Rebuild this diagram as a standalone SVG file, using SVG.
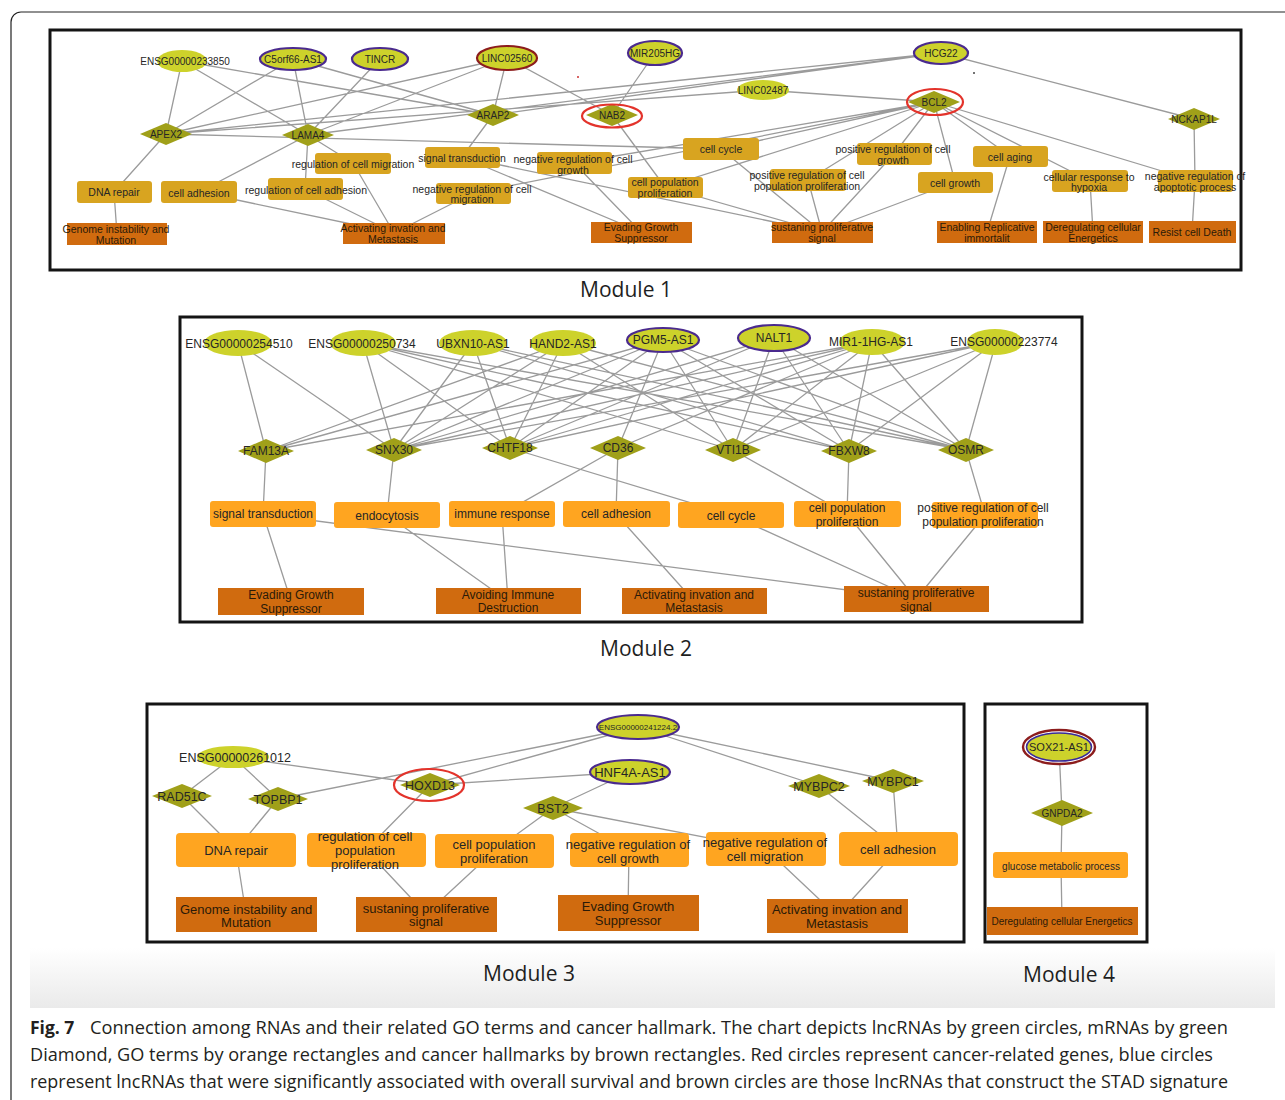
<svg xmlns="http://www.w3.org/2000/svg" width="1285" height="1100" viewBox="0 0 1285 1100">
<defs>
<linearGradient id="band" x1="0" y1="0" x2="0" y2="1"><stop offset="0" stop-color="#ffffff"/><stop offset="1" stop-color="#eaeaea"/></linearGradient>
</defs>
<style>
.e{stroke:#9b9b9b;stroke-width:1.3;fill:none}
.box{fill:none;stroke:#141414;stroke-width:3}
.lnc{fill:#cdd22b}
.pur{stroke:#4a2a8e;stroke-width:2.2}
.drd{stroke:#8c1c1c;stroke-width:2.2}
.ring{fill:none;stroke:#e3332b;stroke-width:2.2}
.mr{fill:#a0a019}
.go1{fill:#d8a420}
.go{fill:#ffa520}
.hm{fill:#d06b0f}
text{font-family:"Liberation Sans",Arial,sans-serif;text-anchor:middle;fill:#262626}
.hmt{fill:#2a1a08}
.n10{font-size:10px}
.g10{font-size:10.5px}
.n12{font-size:12px}
.n125{font-size:12.5px}
.n13{font-size:13px}
.n11{font-size:11px}
.n8{font-size:8px}
.mod{font-family:"Open Sans","Liberation Sans",sans-serif;font-size:21px;fill:#1e1e1e}
.cap{font-family:"Open Sans","Liberation Sans",sans-serif;font-size:17.5px;fill:#231f20;text-anchor:start}
</style>

<rect x="11" y="12" width="1300" height="1120" rx="10" fill="#ffffff" stroke="#222" stroke-width="1.2"/>
<rect x="30" y="948" width="1245" height="60" fill="url(#band)"/>

<!-- ================= MODULE 1 ================= -->
<rect class="box" x="50" y="30" width="1191" height="240" fill="#fff"/>
<g id="m1-edges">
<path class="e" d="M182,61L166,134M182,61L308,135M182,61L493,115M293,59L166,134M293,59L308,135M293,59L493,115M380,59L308,135M507,58L166,134M507,58L308,135M507,58L493,115M507,58L612,115M655,53L612,115M941,53L166,134M941,53L493,115M941,53L308,135M941,53L1194,119M763,90L934,102M763,90L166,134"/>
<path class="e" d="M166,134L114,192M166,134L721,149M308,135L199,192M308,135L305,189M308,135L353,163M493,115L462,157M612,115L665,187M934,102L721,149M934,102L574,163M934,102L473,193M934,102L665,187M934,102L808,180M934,102L894,154M934,102L955,182M934,102L1010,156M934,102L1090,181M934,102L1195,181M1194,119L1195,181"/>
<path class="e" d="M114,192L117,234M199,192L394,233M305,189L394,233M353,163L394,233M473,193L394,233M462,157L641,232M462,157L822,232M574,163L641,232M665,187L822,232M721,149L822,232M808,180L822,232M894,154L822,232M955,182L822,232M1010,156L987,232M1090,181L1093,232M1195,181L1192,232"/>
</g>
<circle cx="578" cy="77" r="1" fill="#c33"/>
<circle cx="974" cy="73" r="1" fill="#444"/>

<g id="m1-ENSG00000233850"><ellipse class="lnc" cx="182" cy="61" rx="25" ry="11"/><text class="n10" x="185" y="65">ENSG00000233850</text></g>
<g id="m1-C5orf66-AS1"><ellipse class="lnc pur" cx="293" cy="59" rx="33" ry="11"/><text class="n10" x="293" y="63">C5orf66-AS1</text></g>
<g id="m1-TINCR"><ellipse class="lnc pur" cx="380" cy="59" rx="28" ry="11"/><text class="n10" x="380" y="63">TINCR</text></g>
<g id="m1-LINC02560"><ellipse class="lnc drd" cx="507" cy="58" rx="30" ry="12"/><text class="n10" x="507" y="62">LINC02560</text></g>
<g id="m1-MIR205HG"><ellipse class="lnc pur" cx="655" cy="53" rx="27" ry="12"/><text class="n10" x="655" y="57">MIR205HG</text></g>
<g id="m1-LINC02487"><ellipse class="lnc" cx="763" cy="90" rx="26" ry="10"/><text class="n10" x="763" y="94">LINC02487</text></g>
<g id="m1-HCG22"><ellipse class="lnc pur" cx="941" cy="53" rx="27" ry="11"/><text class="n10" x="941" y="57">HCG22</text></g>

<g id="m1-APEX2"><polygon class="mr" points="140,134 166,123 192,134 166,145"/><text class="n10" x="166" y="138">APEX2</text></g>
<g id="m1-LAMA4"><polygon class="mr" points="282,135 308,124 334,135 308,146"/><text class="n10" x="308" y="139">LAMA4</text></g>
<g id="m1-ARAP2"><polygon class="mr" points="467,115 493,104 519,115 493,126"/><text class="n10" x="493" y="119">ARAP2</text></g>
<g id="m1-NAB2"><polygon class="mr" points="586,115 612,104 638,115 612,126"/><ellipse class="ring" cx="612" cy="116" rx="30" ry="11.5"/><text class="n10" x="612" y="119">NAB2</text></g>
<g id="m1-BCL2"><polygon class="mr" points="908,102 934,91 960,102 934,113"/><ellipse class="ring" cx="935" cy="102" rx="28" ry="13"/><text class="n10" x="934" y="106">BCL2</text></g>
<g id="m1-NCKAP1L"><polygon class="mr" points="1168,119 1194,108 1220,119 1194,130"/><text class="n10" x="1194" y="123">NCKAP1L</text></g>

<g id="m1-go-dna-repair"><rect class="go1" x="77" y="181" width="75" height="22" rx="3"/><text class="g10" x="114" y="196">DNA repair</text></g>
<g id="m1-go-cell-adhesion"><rect class="go1" x="161" y="181" width="76" height="22" rx="3"/><text class="g10" x="199" y="197">cell adhesion</text></g>
<g id="m1-go-reg-cell-adhesion"><rect class="go1" x="268" y="178" width="75" height="22" rx="3"/><text class="g10" x="306" y="194">regulation of cell adhesion</text></g>
<g id="m1-go-reg-cell-migration"><rect class="go1" x="315" y="153" width="76" height="21" rx="3"/><text class="g10" x="353" y="168">regulation of cell migration</text></g>
<g id="m1-go-signal-transduction"><rect class="go1" x="425" y="147" width="75" height="21" rx="3"/><text class="g10" x="462" y="162">signal transduction</text></g>
<g id="m1-go-neg-reg-cell-growth"><rect class="go1" x="537" y="152" width="75" height="22" rx="3"/><text class="g10" x="573" y="163">negative regulation of cell<tspan x="573" y="174">growth</tspan></text></g>
<g id="m1-go-neg-reg-cell-migration"><rect class="go1" x="436" y="183" width="75" height="21" rx="3"/><text class="g10" x="472" y="193">negative regulation of cell<tspan x="472" y="203">migration</tspan></text></g>
<g id="m1-go-cell-cycle"><rect class="go1" x="683" y="138" width="76" height="22" rx="3"/><text class="g10" x="721" y="153">cell cycle</text></g>
<g id="m1-go-cell-pop-prolif"><rect class="go1" x="628" y="177" width="75" height="21" rx="3"/><text class="g10" x="665" y="186">cell population<tspan x="665" y="197">proliferation</tspan></text></g>
<g id="m1-go-pos-reg-cell-pop-prolif"><rect class="go1" x="770" y="169" width="76" height="22" rx="3"/><text class="g10" x="807" y="179">positive regulation of cell<tspan x="807" y="190">population proliferation</tspan></text></g>
<g id="m1-go-pos-reg-cell-growth"><rect class="go1" x="857" y="143" width="75" height="22" rx="3"/><text class="g10" x="893" y="153">positive regulation of cell<tspan x="893" y="164">growth</tspan></text></g>
<g id="m1-go-cell-growth"><rect class="go1" x="918" y="172" width="75" height="21" rx="3"/><text class="g10" x="955" y="187">cell growth</text></g>
<g id="m1-go-cell-aging"><rect class="go1" x="973" y="146" width="75" height="21" rx="3"/><text class="g10" x="1010" y="161">cell aging</text></g>
<g id="m1-go-hypoxia"><rect class="go1" x="1052" y="170" width="76" height="22" rx="3"/><text class="g10" x="1089" y="181">cellular response to<tspan x="1089" y="191">hypoxia</tspan></text></g>
<g id="m1-go-neg-reg-apoptotic"><rect class="go1" x="1158" y="170" width="75" height="22" rx="3"/><text class="g10" x="1195" y="180">negative regulation of<tspan x="1195" y="191">apoptotic process</tspan></text></g>

<g id="m1-hm-genome"><rect class="hm" x="67" y="223" width="100" height="22"/><text class="g10 hmt" x="116" y="233">Genome instability and<tspan x="116" y="244">Mutation</tspan></text></g>
<g id="m1-hm-activating"><rect class="hm" x="343" y="223" width="102" height="21"/><text class="g10 hmt" x="393" y="232">Activating invation and<tspan x="393" y="243">Metastasis</tspan></text></g>
<g id="m1-hm-evading"><rect class="hm" x="591" y="222" width="101" height="21"/><text class="g10 hmt" x="641" y="231">Evading Growth<tspan x="641" y="242">Suppressor</tspan></text></g>
<g id="m1-hm-sustaining"><rect class="hm" x="772" y="222" width="101" height="21"/><text class="g10 hmt" x="822" y="231">sustaning proliferative<tspan x="822" y="242">signal</tspan></text></g>
<g id="m1-hm-enabling"><rect class="hm" x="937" y="221" width="100" height="22"/><text class="g10 hmt" x="987" y="231">Enabling Replicative<tspan x="987" y="242">immortalit</tspan></text></g>
<g id="m1-hm-deregulating"><rect class="hm" x="1043" y="221" width="100" height="22"/><text class="g10 hmt" x="1093" y="231">Deregulating cellular<tspan x="1093" y="242">Energetics</tspan></text></g>
<g id="m1-hm-resist"><rect class="hm" x="1149" y="221" width="87" height="22"/><text class="g10 hmt" x="1192" y="236">Resist cell Death</text></g>
<text class="mod" x="626" y="297">Module 1</text>

<!-- ================= MODULE 2 ================= -->
<rect class="box" x="180" y="317" width="902" height="305" fill="#fff"/>
<g id="m2-edges">
<path class="e" d="M238,343L266,451M238,343L394,450
M363,343L394,450M363,343L510,448M363,343L733,450M363,343L849,451M363,343L966,450
M473,343L394,450M473,343L510,448M473,343L849,451M473,343L966,450
M563,343L266,451M563,343L394,450M563,343L510,448M563,343L733,450M563,343L966,450
M663,340L266,451M663,340L394,450M663,340L510,448M663,340L618,448M663,340L733,450M663,340L849,451M663,340L966,450
M774,338L394,450M774,338L510,448M774,338L733,450M774,338L849,451M774,338L966,450
M872,342L266,451M872,342L394,450M872,342L510,448M872,342L618,448M872,342L733,450M872,342L849,451M872,342L966,450
M996,342L394,450M996,342L510,448M996,342L733,450M996,342L849,451M996,342L966,450"/>
<path class="e" d="M266,451L263,514M394,450L387,515M510,448L731,515M618,448L502,514M618,448L616,514M733,450L847,514M849,451L847,514M966,450L985,515"/>
<path class="e" d="M263,514L291,601M263,514L916,599M387,515L508,601M502,514L508,601M616,514L694,601M731,515L916,599M847,514L916,599M985,515L916,599"/>
</g>

<g id="m2-ENSG00000254510"><ellipse class="lnc" cx="238" cy="343" rx="34" ry="13"/><text class="n12" x="239" y="348">ENSG00000254510</text></g>
<g id="m2-ENSG00000250734"><ellipse class="lnc" cx="363" cy="343" rx="33" ry="13"/><text class="n12" x="362" y="348">ENSG00000250734</text></g>
<g id="m2-UBXN10-AS1"><ellipse class="lnc" cx="473" cy="343" rx="34" ry="13"/><text class="n12" x="473" y="348">UBXN10-AS1</text></g>
<g id="m2-HAND2-AS1"><ellipse class="lnc" cx="563" cy="343" rx="33" ry="13"/><text class="n12" x="563" y="348">HAND2-AS1</text></g>
<g id="m2-PGM5-AS1"><ellipse class="lnc pur" cx="663" cy="340" rx="36" ry="12"/><text class="n12" x="663" y="344">PGM5-AS1</text></g>
<g id="m2-NALT1"><ellipse class="lnc pur" cx="774" cy="338" rx="36" ry="13"/><text class="n12" x="774" y="342">NALT1</text></g>
<g id="m2-MIR1-1HG-AS1"><ellipse class="lnc" cx="872" cy="342" rx="33" ry="13"/><text class="n12" x="871" y="346">MIR1-1HG-AS1</text></g>
<g id="m2-ENSG00000223774"><ellipse class="lnc" cx="995" cy="342" rx="28" ry="13"/><text class="n12" x="1004" y="346">ENSG00000223774</text></g>

<g id="m2-FAM13A"><polygon class="mr" points="238,451 266,439 294,451 266,463"/><text class="n12" x="266" y="455">FAM13A</text></g>
<g id="m2-SNX30"><polygon class="mr" points="366,450 394,438 422,450 394,462"/><text class="n12" x="394" y="454">SNX30</text></g>
<g id="m2-CHTF18"><polygon class="mr" points="482,448 510,436 538,448 510,460"/><text class="n12" x="510" y="452">CHTF18</text></g>
<g id="m2-CD36"><polygon class="mr" points="590,448 618,436 646,448 618,460"/><text class="n12" x="618" y="452">CD36</text></g>
<g id="m2-VTI1B"><polygon class="mr" points="705,450 733,438 761,450 733,462"/><text class="n12" x="733" y="454">VTI1B</text></g>
<g id="m2-FBXW8"><polygon class="mr" points="821,451 849,439 877,451 849,463"/><text class="n12" x="849" y="455">FBXW8</text></g>
<g id="m2-OSMR"><polygon class="mr" points="938,450 966,438 994,450 966,462"/><text class="n12" x="966" y="454">OSMR</text></g>

<g id="m2-go-signal-transduction"><rect class="go" x="210" y="501" width="106" height="26" rx="3"/><text class="n12" x="263" y="518">signal transduction</text></g>
<g id="m2-go-endocytosis"><rect class="go" x="334" y="502" width="106" height="26" rx="3"/><text class="n12" x="387" y="520">endocytosis</text></g>
<g id="m2-go-immune-response"><rect class="go" x="449" y="501" width="106" height="26" rx="3"/><text class="n12" x="502" y="518">immune response</text></g>
<g id="m2-go-cell-adhesion"><rect class="go" x="563" y="501" width="107" height="26" rx="3"/><text class="n12" x="616" y="518">cell adhesion</text></g>
<g id="m2-go-cell-cycle"><rect class="go" x="678" y="502" width="106" height="26" rx="3"/><text class="n12" x="731" y="520">cell cycle</text></g>
<g id="m2-go-cell-pop-prolif"><rect class="go" x="794" y="501" width="107" height="26" rx="3"/><text class="n12" x="847" y="512">cell population<tspan x="847" y="526">proliferation</tspan></text></g>
<g id="m2-go-pos-reg-cell-pop-prolif"><rect class="go" x="932" y="502" width="106" height="26" rx="3"/><text class="n12" x="983" y="512">positive regulation of cell<tspan x="983" y="526">population proliferation</tspan></text></g>

<g id="m2-hm-evading"><rect class="hm" x="218" y="588" width="146" height="27"/><text class="n12 hmt" x="291" y="599">Evading Growth<tspan x="291" y="613">Suppressor</tspan></text></g>
<g id="m2-hm-avoiding"><rect class="hm" x="436" y="588" width="145" height="26"/><text class="n12 hmt" x="508" y="599">Avoiding Immune<tspan x="508" y="612">Destruction</tspan></text></g>
<g id="m2-hm-activating"><rect class="hm" x="622" y="588" width="145" height="26"/><text class="n12 hmt" x="694" y="599">Activating invation and<tspan x="694" y="612">Metastasis</tspan></text></g>
<g id="m2-hm-sustaining"><rect class="hm" x="844" y="586" width="145" height="26"/><text class="n12 hmt" x="916" y="597">sustaning proliferative<tspan x="916" y="611">signal</tspan></text></g>
<text class="mod" x="646" y="656">Module 2</text>

<!-- ================= MODULE 3 ================= -->
<rect class="box" x="147" y="704" width="817" height="238" fill="#fff"/>
<g id="m3-edges">
<path class="e" d="M233,757L182,796M233,757L278,799M233,757L430,785M638,727L278,799M638,727L430,785M638,727L819,786M638,727L893,781M630,772L430,785M630,772L553,808"/>
<path class="e" d="M182,796L236,850M278,799L236,850M430,785L366,850M553,808L494,851M553,808L629,850M553,808L766,849M819,786L898,849M893,781L898,849"/>
<path class="e" d="M236,850L246,914M366,850L426,914M494,851L426,914M629,850L628,913M766,849L837,916M898,849L837,916"/>
</g>

<g id="m3-ENSG00000261012"><ellipse class="lnc" cx="233" cy="757" rx="36" ry="11"/><text class="n125" x="235" y="761.5">ENSG00000261012</text></g>
<g id="m3-ENSG00000241224"><ellipse class="lnc pur" cx="638" cy="727" rx="41" ry="12"/><text class="n8" x="638" y="730">ENSG00000241224.2</text></g>
<g id="m3-HNF4A-AS1"><ellipse class="lnc pur" cx="630" cy="772" rx="40" ry="12"/><text class="n13" x="630" y="776.5">HNF4A-AS1</text></g>

<g id="m3-RAD51C"><polygon class="mr" points="152,796 182,784 212,796 182,808"/><text class="n125" x="182" y="800.5">RAD51C</text></g>
<g id="m3-TOPBP1"><polygon class="mr" points="248,799 278,787 308,799 278,811"/><text class="n125" x="278" y="803.5">TOPBP1</text></g>
<g id="m3-HOXD13"><polygon class="mr" points="400,785 430,773 460,785 430,797"/><ellipse class="ring" cx="429" cy="785" rx="35" ry="16"/><text class="n125" x="430" y="789.5">HOXD13</text></g>
<g id="m3-BST2"><polygon class="mr" points="523,808 553,796 583,808 553,820"/><text class="n125" x="553" y="812.5">BST2</text></g>
<g id="m3-MYBPC2"><polygon class="mr" points="788,786 819,774 850,786 819,798"/><text class="n125" x="819" y="790.5">MYBPC2</text></g>
<g id="m3-MYBPC1"><polygon class="mr" points="862,781 893,769 924,781 893,793"/><text class="n125" x="893" y="785.5">MYBPC1</text></g>

<g id="m3-go-dna-repair"><rect class="go" x="176" y="833" width="120" height="34" rx="4"/><text class="n13" x="236" y="855">DNA repair</text></g>
<g id="m3-go-reg-cell-pop-prolif"><rect class="go" x="307" y="833" width="119" height="34" rx="4"/><text class="n13" x="365" y="841">regulation of cell<tspan x="365" y="855">population</tspan><tspan x="365" y="869">proliferation</tspan></text></g>
<g id="m3-go-cell-pop-prolif"><rect class="go" x="435" y="834" width="119" height="34" rx="4"/><text class="n13" x="494" y="849">cell population<tspan x="494" y="863">proliferation</tspan></text></g>
<g id="m3-go-neg-reg-cell-growth"><rect class="go" x="570" y="833" width="119" height="34" rx="4"/><text class="n13" x="628" y="848.5">negative regulation of<tspan x="628" y="862.5">cell growth</tspan></text></g>
<g id="m3-go-neg-reg-cell-migration"><rect class="go" x="706" y="832" width="120" height="34" rx="4"/><text class="n13" x="765" y="847">negative regulation of<tspan x="765" y="861">cell migration</tspan></text></g>
<g id="m3-go-cell-adhesion"><rect class="go" x="839" y="832" width="119" height="34" rx="4"/><text class="n13" x="898" y="854">cell adhesion</text></g>

<g id="m3-hm-genome"><rect class="hm" x="176" y="897" width="141" height="35"/><text class="n13 hmt" x="246" y="914">Genome instability and<tspan x="246" y="927">Mutation</tspan></text></g>
<g id="m3-hm-sustaining"><rect class="hm" x="356" y="897" width="141" height="35"/><text class="n13 hmt" x="426" y="913">sustaning proliferative<tspan x="426" y="926">signal</tspan></text></g>
<g id="m3-hm-evading"><rect class="hm" x="558" y="895" width="141" height="36"/><text class="n13 hmt" x="628" y="911">Evading Growth<tspan x="628" y="925">Suppressor</tspan></text></g>
<g id="m3-hm-activating"><rect class="hm" x="767" y="899" width="141" height="34"/><text class="n13 hmt" x="837" y="914">Activating invation and<tspan x="837" y="928">Metastasis</tspan></text></g>
<text class="mod" x="529" y="981">Module 3</text>

<!-- ================= MODULE 4 ================= -->
<rect class="box" x="985" y="704" width="162" height="238" fill="#fff"/>
<g id="m4-edges">
<path class="e" d="M1059,747L1062,813M1062,813L1061,865M1061,865L1062,921"/>
</g>
<g id="m4-SOX21-AS1"><ellipse cx="1059" cy="747" rx="36" ry="17" fill="#fff" stroke="#8c1c1c" stroke-width="2.4"/><ellipse class="lnc" cx="1059" cy="747" rx="32.5" ry="14" stroke="#3a2a9a" stroke-width="1.6"/><text class="n11" x="1059" y="751">SOX21-AS1</text></g>
<g id="m4-GNPDA2"><polygon class="mr" points="1031,813 1062,800 1093,813 1062,826"/><text class="n10" x="1062" y="816.5">GNPDA2</text></g>
<g id="m4-go-glucose"><rect class="go" x="993" y="852" width="135" height="26" rx="3"/><text class="n10" x="1061" y="869.5">glucose metabolic process</text></g>
<g id="m4-hm-deregulating"><rect class="hm" x="987" y="907" width="151" height="28"/><text class="n10 hmt" x="1062" y="924.5">Deregulating cellular Energetics</text></g>
<text class="mod" x="1069" y="982">Module 4</text>

<!-- ================= CAPTION ================= -->
<text class="cap" x="30" y="1034" font-weight="bold">Fig. 7</text>
<text class="cap" x="90" y="1034" textLength="1138" lengthAdjust="spacingAndGlyphs">Connection among RNAs and their related GO terms and cancer hallmark. The chart depicts lncRNAs by green circles, mRNAs by green</text>
<text class="cap" x="30" y="1061" textLength="1183" lengthAdjust="spacingAndGlyphs">Diamond, GO terms by orange rectangles and cancer hallmarks by brown rectangles. Red circles represent cancer-related genes, blue circles</text>
<text class="cap" x="30" y="1088" textLength="1198" lengthAdjust="spacingAndGlyphs">represent lncRNAs that were significantly associated with overall survival and brown circles are those lncRNAs that construct the STAD signature</text>
</svg>
